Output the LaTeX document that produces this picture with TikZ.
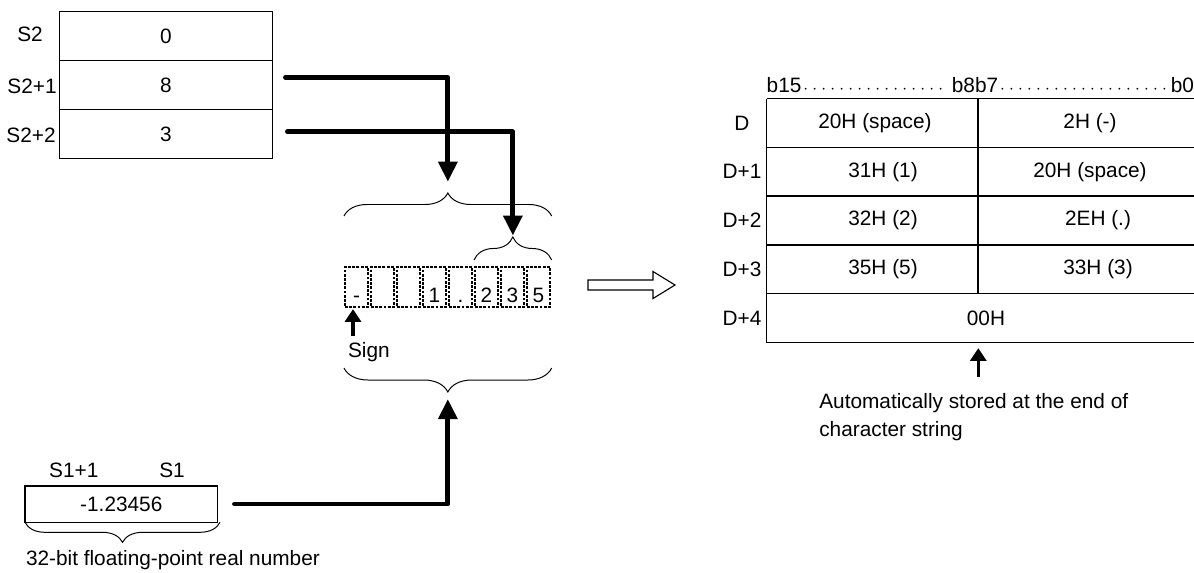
\documentclass[tikz,border=0pt]{standalone}
\usepackage{fontspec}
\setmainfont{Liberation Sans}
\usetikzlibrary{arrows.meta,positioning,decorations.pathreplacing}

\begin{document}
\begin{tikzpicture}[x=0.025cm,y=-0.025cm,
    font=\fontsize{14.8}{17.8}\selectfont,
    every node/.style={inner sep=0pt,outer sep=0pt},
    cell/.style={rectangle,draw,line width=0.9pt,
      minimum width=5.325cm,minimum height=1.225cm},
    chr/.style={rectangle,draw,densely dotted,line width=2pt,
      minimum width=0.575cm,minimum height=1cm},
    brace/.style={decorate,decoration={brace,amplitude=#1},line width=0.7pt},
    brace/.default=0.575cm,
    flow/.style={-{Triangle[length=0.5cm,width=0.46cm]},line width=3.5pt,
      line cap=round,line join=round},
    pointer/.style={-{Triangle[length=0.32cm,width=0.4cm]},line width=2.3pt},
    grid/.style={line width=0.9pt},
    bitdots/.style={line width=1.4pt,line cap=round,dash pattern=on 0pt off 6.4pt}]
\useasboundingbox (0,0) rectangle (1194,572);

% source S2 .. S2+2
\node[cell] (s0) at (165.8,36.2) {0};
\node[cell,below=0pt of s0] (s1) {8};
\node[cell,below=0pt of s1] (s2) {3};
\node (ls0) at (30,34) {S2};
\node (ls1) at (32,86) {S2+1};
\node (ls2) at (31,135) {S2+2};

% character cells
\foreach \ch [count=\i] in {-,{},{},1,{.},2,3,5} {
  \node[chr] (c\i) at ({330.5+26*\i},287) {};
  \node[anchor=base] (t\i) at ({330.5+26*\i},302.5) {\ch};
}

% braces round the cells
\draw[brace] (344,216) -- (551.7,216) coordinate[midway] (bt);
\coordinate (bttip) at ([yshift=0.575cm]bt);
\draw[brace] (474,260) -- (551.7,260) coordinate[midway] (st);
\coordinate (sttip) at ([yshift=0.575cm]st);
\draw[brace=0.6cm] (551.7,368) -- (344,368) coordinate[midway] (bb);
\coordinate (bbtip) at ([yshift=-0.6cm]bb);

% S2 arrows
\coordinate (a1) at (285.5,77.3);
\coordinate (a2) at (287.5,131.7);
\draw[flow,shorten >=8pt] (a1) -| (bttip);
\draw[flow,shorten >=1pt] (a2) -| (sttip);

% sign
\node[anchor=west] (sign) at (348,352) {Sign};
\coordinate (sg) at (353,336);
\draw[pointer,shorten >=1.5pt] (sg) -- (sg |- c1.south);

% source S1
\node[rectangle,draw,line width=0.9pt,minimum width=4.82cm,
  minimum height=0.91cm] (s1box) at (121.3,504.2) {-1.23456};
\node (ls1a) at (73.8,470) {S1+1};
\node (ls1b) at (172,470) {S1};
\draw[brace=0.5cm] (220,522.3) -- (25,522.3);
\node[anchor=west] (real) at (26,560) {32-bit floating-point real number};
\coordinate (a3) at (234.5,504);
\draw[flow,shorten >=5pt] (a3) -| (bbtip);

% hollow arrow
\draw[line width=0.8pt] (588,280) -- (653,280) -- (653,271.5) -- (675,285)
  -- (653,298.5) -- (653,290) -- (588,290) -- cycle;

% destination D .. D+4
\node[anchor=west] (b15) at (766.7,85) {b15};
\node (b87) at (975,85) {b8b7};
\node[anchor=east] (b0) at (1194,85) {b0};
\draw[bitdots] ([xshift=3pt]b15.mid east) -- ([xshift=-2pt]b87.mid west);
\draw[bitdots] ([xshift=3pt]b87.mid east) -- ([xshift=-2pt]b0.mid west);

\foreach \lab [count=\i from 0] in {D,D+1,D+2,D+3,D+4}
  \node (dl\i) at (742,{122.9+48.8*\i}) {\lab};
\foreach \y in {98.5,147.3,196.1,244.9,293.7,342.5}
  \draw[grid] (766.7,\y) -- (1194,\y);
\draw[grid] (766.7,98.5) -- (766.7,342.5);
\draw[grid] (978,98.5) -- (978,293.7);

\node (d0h) at (875,122.9) {20H (space)};
\node (d0l) at (1090,122.9) {2H (-)};
\node (d1h) at (883,171.7) {31H (1)};
\node (d1l) at (1090,171.7) {20H (space)};
\node (d2h) at (883,220.5) {32H (2)};
\node (d2l) at (1098,220.5) {2EH (.)};
\node (d3h) at (883,269.3) {35H (5)};
\node (d3l) at (1098,269.3) {33H (3)};
\node[minimum width=10.68cm,minimum height=1.22cm] (row4) at (980.35,318.1) {};
\node (d4) at (986,318.1) {00H};

\coordinate (ep) at (978.3,377);
\draw[pointer,shorten >=4pt] (ep) -- (ep |- row4.south);
\node[anchor=north west,align=left,font=\fontsize{14.8}{20.2}\selectfont]
  (note) at (819.3,393) {Automatically stored at the end of\\character string};
\end{tikzpicture}
\end{document}
